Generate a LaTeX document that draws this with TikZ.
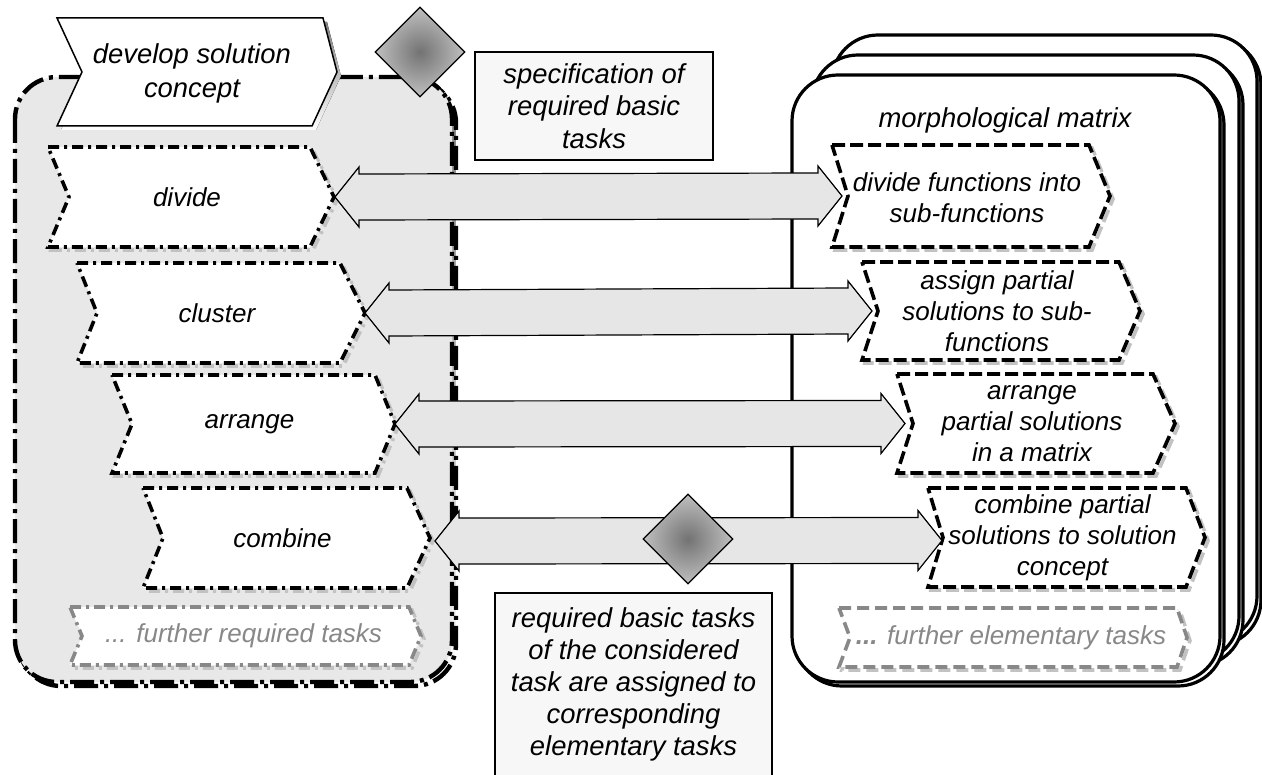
\documentclass[tikz,border=0pt]{standalone}
\usepackage{fontspec}
\setmainfont{Liberation Sans}
\usetikzlibrary{calc,shapes.geometric}

\definecolor{panel}{HTML}{E8E8E8}
\definecolor{arrowfill}{HTML}{E6E6E6}
\definecolor{boxfill}{HTML}{F7F7F7}
\definecolor{shade}{HTML}{C2C2C2}
\definecolor{muted}{HTML}{888888}

% chevron: #1 outline style, #2 name, #3 left x, #4 right x, #5 top y, #6 bottom y, #7 notch depth, #8 tip depth
\newcommand\chevshape[8]{%
  \draw[#1, draw=shade, shift={(3,3)}] (#3,#5) -- (#4,#5) -- ({#4+#8},{(#5+#6)/2}) -- (#4,#6) -- (#3,#6) -- ({#3+#7},{(#5+#6)/2}) -- cycle;
  \draw[#1, fill=white] (#3,#5) -- (#4,#5) -- ({#4+#8},{(#5+#6)/2}) -- (#4,#6) -- (#3,#6) -- ({#3+#7},{(#5+#6)/2}) -- cycle;
  \coordinate (#2-w) at ({#3+#7},{(#5+#6)/2});
  \coordinate (#2-e) at ({#4+#8},{(#5+#6)/2});
  \coordinate (#2-c) at ({(#3+#4+#8)/2-4},{(#5+#6)/2});
}

% double block arrow between two tip points at the same height
\newcommand\blockarrow[2]{%
  \draw[blockarrowstyle] (#1) -- ++(24,-30) -- ++(0,7) -- ($(#2)+(-24,-23)$) -- ++(0,-7) -- (#2)
    -- ++(-24,30) -- ++(0,-7) -- ($(#1)+(24,23)$) -- ++(0,7) -- cycle;
}

% stacked rounded sheet with shadow
\newcommand\sheet[4]{%
  \draw[shade, line width=1.6pt, rounded corners=23pt, shift={(4,4)}] (#1,#2) rectangle (#3,#4);
  \draw[black, fill=white, line width=1.6pt, rounded corners=23pt] (#1,#2) rectangle (#3,#4);
}

\tikzset{
  leftchev/.style={draw=black, line width=1.8pt, dash pattern=on 5.5pt off 2.5pt on 1.5pt off 2.5pt},
  leftmore/.style={draw=muted, line width=1.8pt, dash pattern=on 5.5pt off 2.5pt on 1.5pt off 2.5pt},
  rightchev/.style={draw=black, line width=1.8pt, dash pattern=on 6.5pt off 2.5pt},
  rightmore/.style={draw=muted, line width=1.8pt, dash pattern=on 6pt off 3pt},
  blockarrowstyle/.style={draw=black, fill=arrowfill, line width=0.6pt, line join=miter},
  gate/.style={diamond, draw=black, line width=0.6pt, minimum width=45pt, minimum height=45pt,
    inner sep=0pt, shading=radial, inner color=black!55, outer color=black!25},
  lbl/.style={font=\fontsize{13}{15.6}\selectfont\itshape, align=center, inner sep=0pt},
  biglbl/.style={font=\fontsize{13.7}{16.2}\selectfont\itshape, align=center, inner sep=0pt},
  note/.style={draw=black, fill=boxfill, line width=0.6pt},
}

\begin{document}
\begin{tikzpicture}[x=0.5pt,y=-0.5pt]
\useasboundingbox (0,0) rectangle (1262,775);
\clip (0,0) rectangle (1262,775);

% container of the required basic tasks
\draw[shade, line width=2.2pt, dash pattern=on 12pt off 3pt on 2pt off 3pt, rounded corners=21pt, shift={(4,4)}] (15,77) rectangle (452,682);
\fill[panel, rounded corners=21pt] (15,77) rectangle (452,682);
\draw[black, line width=2.2pt, dash pattern=on 12pt off 3pt on 2pt off 3pt, rounded corners=21pt] (15,77) rectangle (452,682);

% stack of elementary task sheets
\sheet{832}{35}{1257}{642}
\sheet{812}{55}{1239}{662}
\sheet{792}{75}{1220}{682}
\node[biglbl] (morph) at (1005,120) {morphological matrix};

% title chevron
\fill[shade, shift={(4,4)}] (57,18) -- (323,18) -- (337,72) -- (312,126) -- (57,126) -- (82,72) -- cycle;
\draw[black, fill=white, line width=0.75pt] (57,18) -- (323,18) -- (337,72) -- (312,126) -- (57,126) -- (82,72) -- cycle;
\node[biglbl, font=\fontsize{13.7}{17}\selectfont\itshape] (develop) at (192,73) {develop solution\\concept};

% required basic tasks
\chevshape{leftchev}{divide}{48}{310}{147}{247}{21}{24}
\chevshape{leftchev}{cluster}{77}{340}{263}{363}{20}{25}
\chevshape{leftchev}{arrange}{112}{375}{375}{473}{20}{20}
\chevshape{leftchev}{combine}{143}{407}{488}{588}{20}{23}
\chevshape{leftmore}{morereq}{70}{409}{607}{665}{12}{12}
\node[lbl] (tdivide) at (divide-c) {divide};
\node[lbl] (tcluster) at (cluster-c) {cluster};
\node[lbl] (tarrange) at (arrange-c) {arrange};
\node[lbl] (tcombine) at (combine-c) {combine};
\node[lbl, text=muted] (tmorereq) at ($(morereq-c)+(2,0)$) {... further required tasks};

% elementary tasks
\chevshape{rightchev}{subfn}{832}{1089}{145}{247}{16}{21}
\chevshape{rightchev}{assign}{862}{1119}{262}{360}{16}{21}
\chevshape{rightchev}{matrix}{897}{1153}{374}{473}{16}{22}
\chevshape{rightchev}{concept}{928}{1186}{488}{587}{15}{19}
\chevshape{rightmore}{moreel}{839}{1177}{608}{667}{11}{10}
\node[lbl] (tsubfn) at ($(subfn-c)+(0,2)$) {divide functions into\\sub-functions};
\node[lbl] (tassign) at (assign-c) {assign partial\\solutions to sub-\\functions};
\node[lbl] (tmatrix) at (matrix-c) {arrange\\partial solutions\\in a matrix};
\node[lbl] (tconcept) at (concept-c) {combine partial\\solutions to solution\\concept};
\node[lbl, text=muted] (tmoreel) at ($(moreel-c)+(2,0)$) {\textbf{...} further elementary tasks};

% assignments between basic and elementary tasks
\blockarrow{$(divide-e)+(1,0)$}{$(subfn-w)+(-6,0)$}
\blockarrow{cluster-e}{$(assign-w)+(-6,0)$}
\blockarrow{arrange-e}{$(matrix-w)+(-8,0)$}
\blockarrow{$(combine-e)+(5,3)$}{$(concept-w)+(-1,3)$}

% gateways
\node[gate] (topgate) at (420,52) {};
\node[gate] (midgate) at (688,539) {};

% notes
\node[note, minimum width=119pt, minimum height=54pt, inner sep=0pt] (specbox) at (594,106) {};
\node[biglbl] (spec) at (specbox) {specification of\\required basic\\tasks};
\draw[note] (495,593) rectangle (772,820);
\node[biglbl, font=\fontsize{13.7}{16}\selectfont\itshape] (assigned) at (633.5,684) {required basic tasks\\of the considered\\task are assigned to\\corresponding\\elementary tasks};
\end{tikzpicture}
\end{document}
